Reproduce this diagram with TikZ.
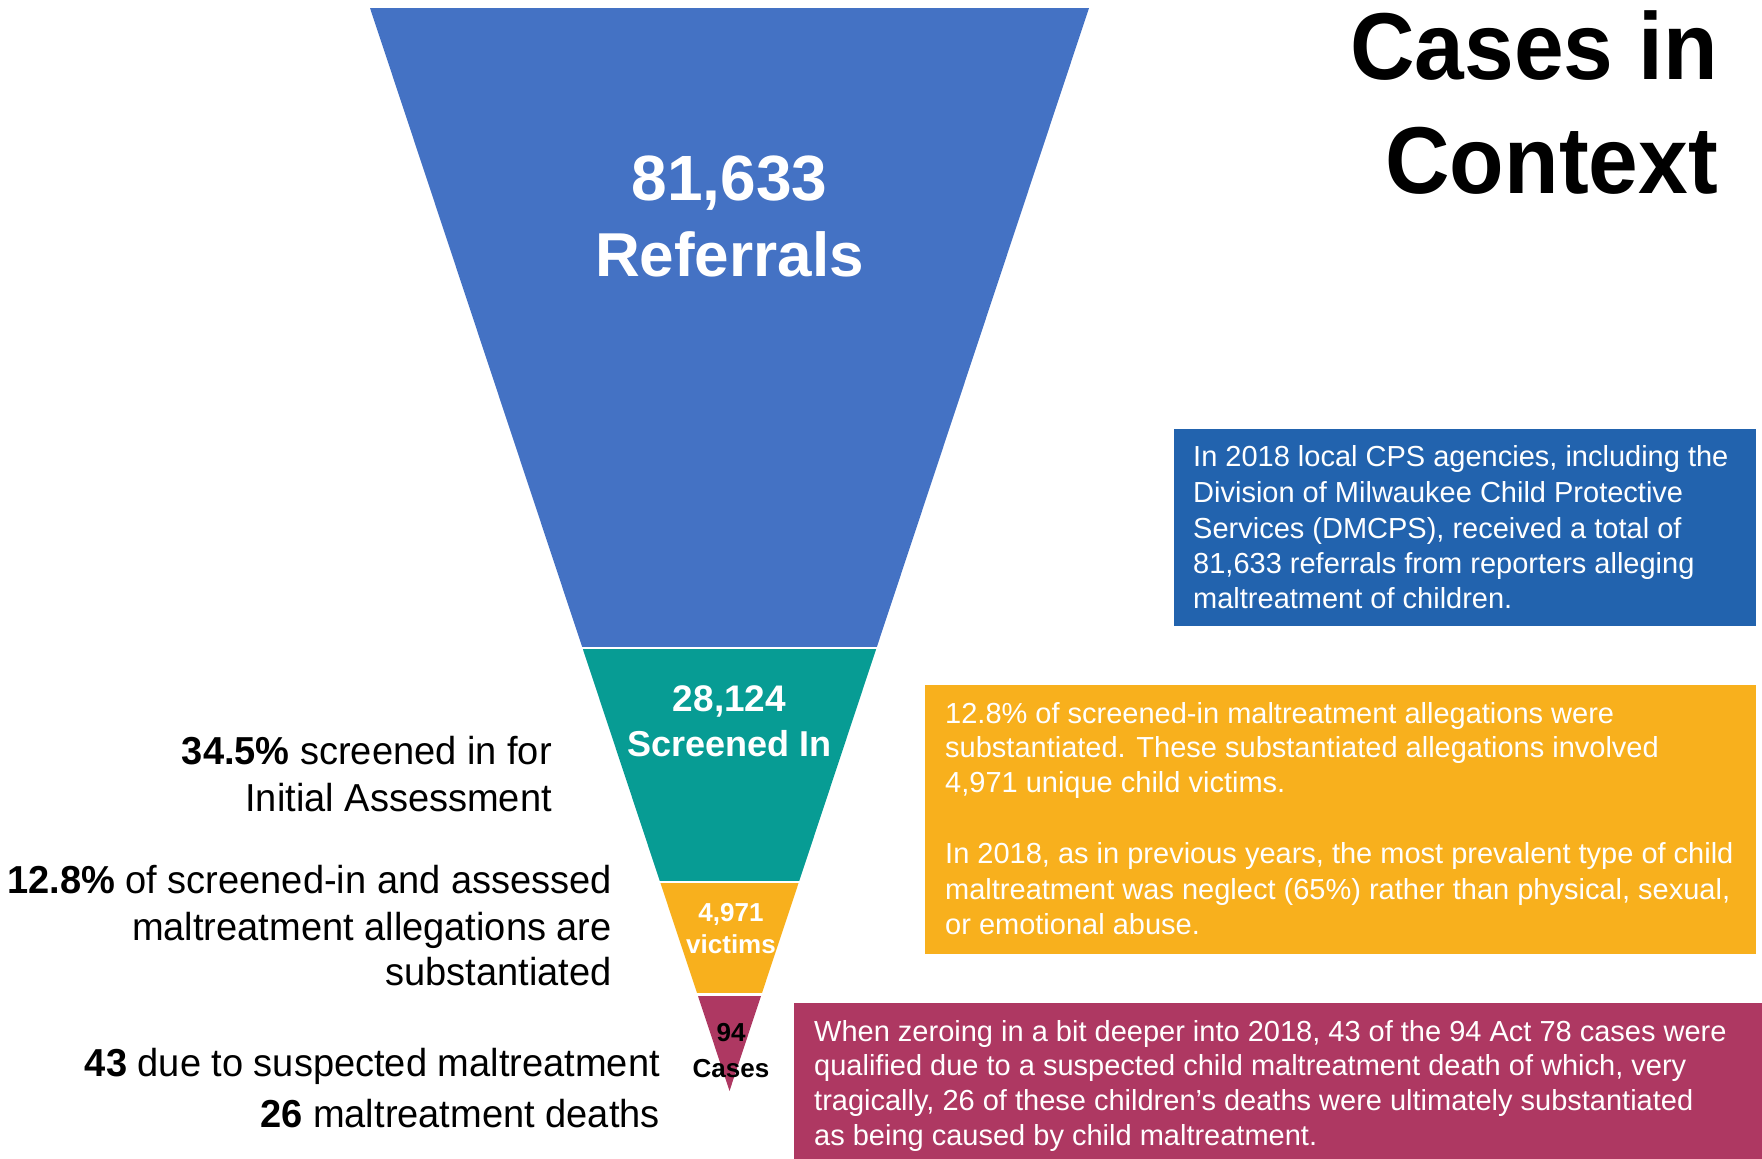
\documentclass[tikz,border=0pt]{standalone}
\usepackage{fontspec}
\setmainfont{Liberation Sans}
\newfontfamily\sidefont{Liberation Sans}[FakeStretch=0.975]
\newfontfamily\titlefont{Liberation Sans}[FakeStretch=0.94]
\usetikzlibrary{calc}
\definecolor{funnelblue}{HTML}{4472C4}
\definecolor{funnelteal}{HTML}{079C94}
\definecolor{funnelgold}{HTML}{F8B01D}
\definecolor{funnelwine}{HTML}{AE3862}
\definecolor{boxblue}{HTML}{2263AE}
\tikzset{
  infobox/.style={draw=none, inner sep=0pt, anchor=north west},
  boxline/.style={anchor=base west, inner sep=0pt, text=white, font=\fontsize{29}{35}\selectfont},
  sideline/.style={anchor=base east, inner sep=0pt, font=\sidefont\fontsize{39}{47}\selectfont},
  stagenum/.style={anchor=base, inner sep=0pt, text=white, font=\bfseries},
}
\begin{document}
\begin{tikzpicture}[x=1pt,y=-1pt]
\useasboundingbox (0,0) rectangle (1762,1159);
% funnel outline points
\coordinate (TL) at (370,8);
\coordinate (TR) at (1089,8);
\coordinate (AP) at (729.5,1091);
% funnel stages
\fill[funnelblue] (TL) -- (TR) -- (876.5,648) -- (582.5,648) -- cycle;
\fill[funnelteal] (582.5,648) -- (876.5,648) -- (798.9,882) -- (660.1,882) -- cycle;
\fill[funnelgold] (660.1,882) -- (798.9,882) -- (761.5,994.5) -- (697.5,994.5) -- cycle;
\fill[funnelwine] (697.5,994.5) -- (761.5,994.5) -- (AP) -- cycle;
% white separators between stages
\foreach \yy/\xa/\xb in {648/570/890, 882/650/810, 994.5/690/770}
  \draw[white, line width=2.6pt] (\xa,\yy) -- (\xb,\yy);

% stage labels
\node[stagenum, font=\bfseries\fontsize{64}{70}\selectfont] (n1a) at (729.5,200) {81,633};
\node[stagenum, font=\bfseries\fontsize{62}{70}\selectfont] (n1b) at (729.5,276) {Referrals};
\node[stagenum, font=\bfseries\fontsize{37}{40}\selectfont] (n2a) at (729.5,711) {28,124};
\node[stagenum, font=\bfseries\fontsize{36}{40}\selectfont] (n2b) at (729.5,756) {Screened In};
\node[stagenum, font=\bfseries\fontsize{26}{30}\selectfont] (n3a) at (731,921) {4,971};
\node[stagenum, font=\bfseries\fontsize{26}{30}\selectfont] (n3b) at (731,953) {victims};
\node[stagenum, text=black, font=\bfseries\fontsize{26}{30}\selectfont] (n4a) at (731,1041) {94};
\node[stagenum, text=black, font=\bfseries\fontsize{26}{30}\selectfont] (n4b) at (731,1077) {Cases};

% title
\node[anchor=base east, inner sep=0pt, font=\titlefont\bfseries\fontsize{95}{114}\selectfont] (t1) at (1718,79) {Cases in};
\node[anchor=base east, inner sep=0pt, font=\titlefont\bfseries\fontsize{95}{114}\selectfont] (t2) at (1718,193) {Context};

% side notes
\node[sideline] (s1a) at (552,764) {\textbf{34.5\%} screened in for};
\node[sideline] (s1b) at (552,811) {Initial Assessment};
\node[sideline] (s2a) at (612,893) {\textbf{12.8\%} of screened-in and assessed};
\node[sideline] (s2b) at (612,940) {maltreatment allegations are};
\node[sideline] (s2c) at (612,985) {substantiated};
\node[sideline] (s3a) at (660,1076) {\textbf{43} due to suspected maltreatment};
\node[sideline] (s3b) at (660,1127) {\textbf{26} maltreatment deaths};

% information boxes
\node[infobox, fill=boxblue, minimum width=582pt, minimum height=197pt] (b1) at (1174,429) {};
\node[boxline] (b1l1) at (1193,466) {In 2018 local CPS agencies, including the};
\node[boxline] (b1l2) at (1193,502) {Division of Milwaukee Child Protective};
\node[boxline] (b1l3) at (1193,538) {Services (DMCPS), received a total of};
\node[boxline] (b1l4) at (1193,573) {81,633 referrals from reporters alleging};
\node[boxline] (b1l5) at (1193,608) {maltreatment of children.};

\node[infobox, fill=funnelgold, minimum width=831pt, minimum height=269pt] (b2) at (925,685) {};
\node[boxline] (b2l1) at (945,723) {12.8\% of screened-in maltreatment allegations were};
\node[boxline] (b2l2) at (945,757) {substantiated. These substantiated allegations involved};
\node[boxline] (b2l3) at (945,792) {4,971 unique child victims.};
\node[boxline] (b2l4) at (945,863) {In 2018, as in previous years, the most prevalent type of child};
\node[boxline] (b2l5) at (945,899) {maltreatment was neglect (65\%) rather than physical, sexual,};
\node[boxline] (b2l6) at (945,934) {or emotional abuse.};

\node[infobox, fill=funnelwine, minimum width=968pt, minimum height=156pt] (b3) at (794,1003) {};
\node[boxline] (b3l1) at (814,1041) {When zeroing in a bit deeper into 2018, 43 of the 94 Act 78 cases were};
\node[boxline] (b3l2) at (814,1075) {qualified due to a suspected child maltreatment death of which, very};
\node[boxline] (b3l3) at (814,1110) {tragically, 26 of these children’s deaths were ultimately substantiated};
\node[boxline] (b3l4) at (814,1145) {as being caused by child maltreatment.};
\end{tikzpicture}
\end{document}
